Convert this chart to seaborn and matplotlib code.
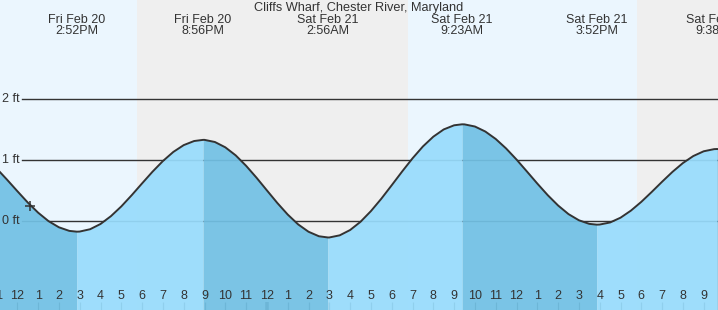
import numpy as np
import pandas as pd
import matplotlib
matplotlib.use("Agg")
import matplotlib.pyplot as plt
import matplotlib.transforms as mtransforms
import seaborn as sns

# ---------------- data (hours since Fri Feb 20 00:00, heights in ft) ----------------
title = "Cliffs Wharf, Chester River, Maryland"

curve_hours = np.arange(11.0, 46.01, 0.5)
curve_feet = [
    0.863, 0.680, 0.490, 0.304, 0.137, -0.002, -0.103, -0.162,
    -0.173, -0.135, -0.049, 0.079, 0.239, 0.423, 0.617, 0.808, 0.983, 1.132, 1.244, 1.311,
    1.330, 1.295, 1.208, 1.076, 0.905, 0.710, 0.502, 0.296, 0.106, -0.055, -0.176, -0.250,
    -0.270, -0.235, -0.148, -0.013, 0.162, 0.365, 0.586, 0.811, 1.027, 1.222, 1.382, 1.501, 1.569,
    1.584, 1.549, 1.467, 1.345, 1.189, 1.008, 0.812, 0.614, 0.424, 0.254, 0.113, 0.012, -0.047,
    -0.058, -0.024, 0.054, 0.170, 0.314, 0.476, 0.644, 0.806, 0.950, 1.065, 1.143, 1.178, 1.176,
]

extreme_hours = [14.867, 20.933, 26.933, 33.383, 39.867, 45.633]
extreme_feet = [-0.175, 1.33, -0.27, 1.585, -0.06, 1.18]
extreme_days = ["Fri Feb 20", "Fri Feb 20", "Sat Feb 21", "Sat Feb 21", "Sat Feb 21", "Sat Feb 21"]
extreme_times = ["2:52PM", "8:56PM", "2:56AM", "9:23AM", "3:52PM", "9:38PM"]

night_start = [17.75, 41.79]
night_end = [30.78, 47.0]

now_hour = 12.61
now_feet = 0.25

grid_feet = [0, 1, 2]
grid_labels = ["0 ft", "1 ft", "2 ft"]

tick_hours = list(range(11, 46))
tick_labels = ["11", "12", "1", "2", "3", "4", "5", "6", "7", "8", "9", "10", "11",
               "12", "1", "2", "3", "4", "5", "6", "7", "8", "9", "10", "11",
               "12", "1", "2", "3", "4", "5", "6", "7", "8", "9"]
midnight_hour = 24

# ---------------- style ----------------
DAY = "#EBF6FE"
NIGHT = "#EFEFEF"
RISE = "#98DCFC"
FALL = "#72C1E5"
INK = "#333333"

plt.rcParams["font.family"] = ["Liberation Sans", "DejaVu Sans"]

W, H = 718, 310
fig = plt.figure(figsize=(W / 100, H / 100), dpi=100)
ax = fig.add_axes([0, 0, 1, 1])

x0, x1 = 11.168, 45.687
y0, y1 = -1.459, 3.623
ax.set_facecolor(DAY)
for s in ax.spines.values():
    s.set_visible(False)

for a, b in zip(night_start, night_end):
    ax.axvspan(a, b, color=NIGHT, lw=0, zorder=0)

for gf in grid_feet:
    ax.axhline(gf, xmin=22 / W, xmax=1, color=INK, lw=1.0, zorder=1)

df = pd.concat([
    pd.DataFrame({"hour": curve_hours, "feet": curve_feet}),
    pd.DataFrame({"hour": extreme_hours, "feet": extreme_feet}),
]).sort_values("hour").reset_index(drop=True)

bounds = [df["hour"].min()] + extreme_hours + [df["hour"].max()]
for a, b in zip(bounds[:-1], bounds[1:]):
    seg = df[(df["hour"] >= a) & (df["hour"] <= b)]
    if len(seg) < 2:
        continue
    rising = seg["feet"].iloc[-1] > seg["feet"].iloc[0]
    ax.fill_between(seg["hour"], seg["feet"], y0 - 1, color=RISE if rising else FALL,
                    lw=0, alpha=0.93, zorder=2, antialiased=False)

sns.lineplot(data=df, x="hour", y="feet", ax=ax, color=INK, linewidth=1.4,
             estimator=None, sort=True, zorder=4)
ax.plot([now_hour], [now_feet], marker="+", ms=7.5, mew=1.1, color=INK, zorder=5)

trans = mtransforms.blended_transform_factory(ax.transData, ax.transAxes)
trans_y = mtransforms.blended_transform_factory(ax.transAxes, ax.transData)

for gf, gl in zip(grid_feet, grid_labels):
    ax.text(2 / W, gf, gl, transform=trans_y, ha="left", va="center", fontsize=9, color=INK)

for t, d, tm in zip(extreme_hours, extreme_days, extreme_times):
    ax.text(t, 1 - 20 / H, d, transform=trans, ha="center", va="center", fontsize=9, color=INK)
    ax.text(t, 1 - 31 / H, tm, transform=trans, ha="center", va="center", fontsize=9, color=INK)

ax.text(0.5, 1 - 8 / H, title, transform=ax.transAxes, ha="center", va="center",
        fontsize=9.2, color=INK)

ax.set_xticks(tick_hours)
ax.set_xticklabels([""] * len(tick_hours))
ax.set_yticks([])
ax.tick_params(axis="x", direction="in", length=6, width=0.9, color=INK, pad=0)
for tk, th in zip(ax.xaxis.get_major_ticks(), tick_hours):
    tk.tick1line.set_zorder(6)
    if th == midnight_hour:
        tk.tick1line.set_markeredgewidth(2.6)
for th, tl in zip(tick_hours, tick_labels):
    ax.text(th, 14 / H, tl, transform=trans, ha="center", va="center", fontsize=9, color=INK,
            zorder=6)

ax.set_xlabel("")
ax.set_ylabel("")
ax.set_xlim(x0, x1)
ax.set_ylim(y0, y1)
fig.savefig("out.png", dpi=100)
